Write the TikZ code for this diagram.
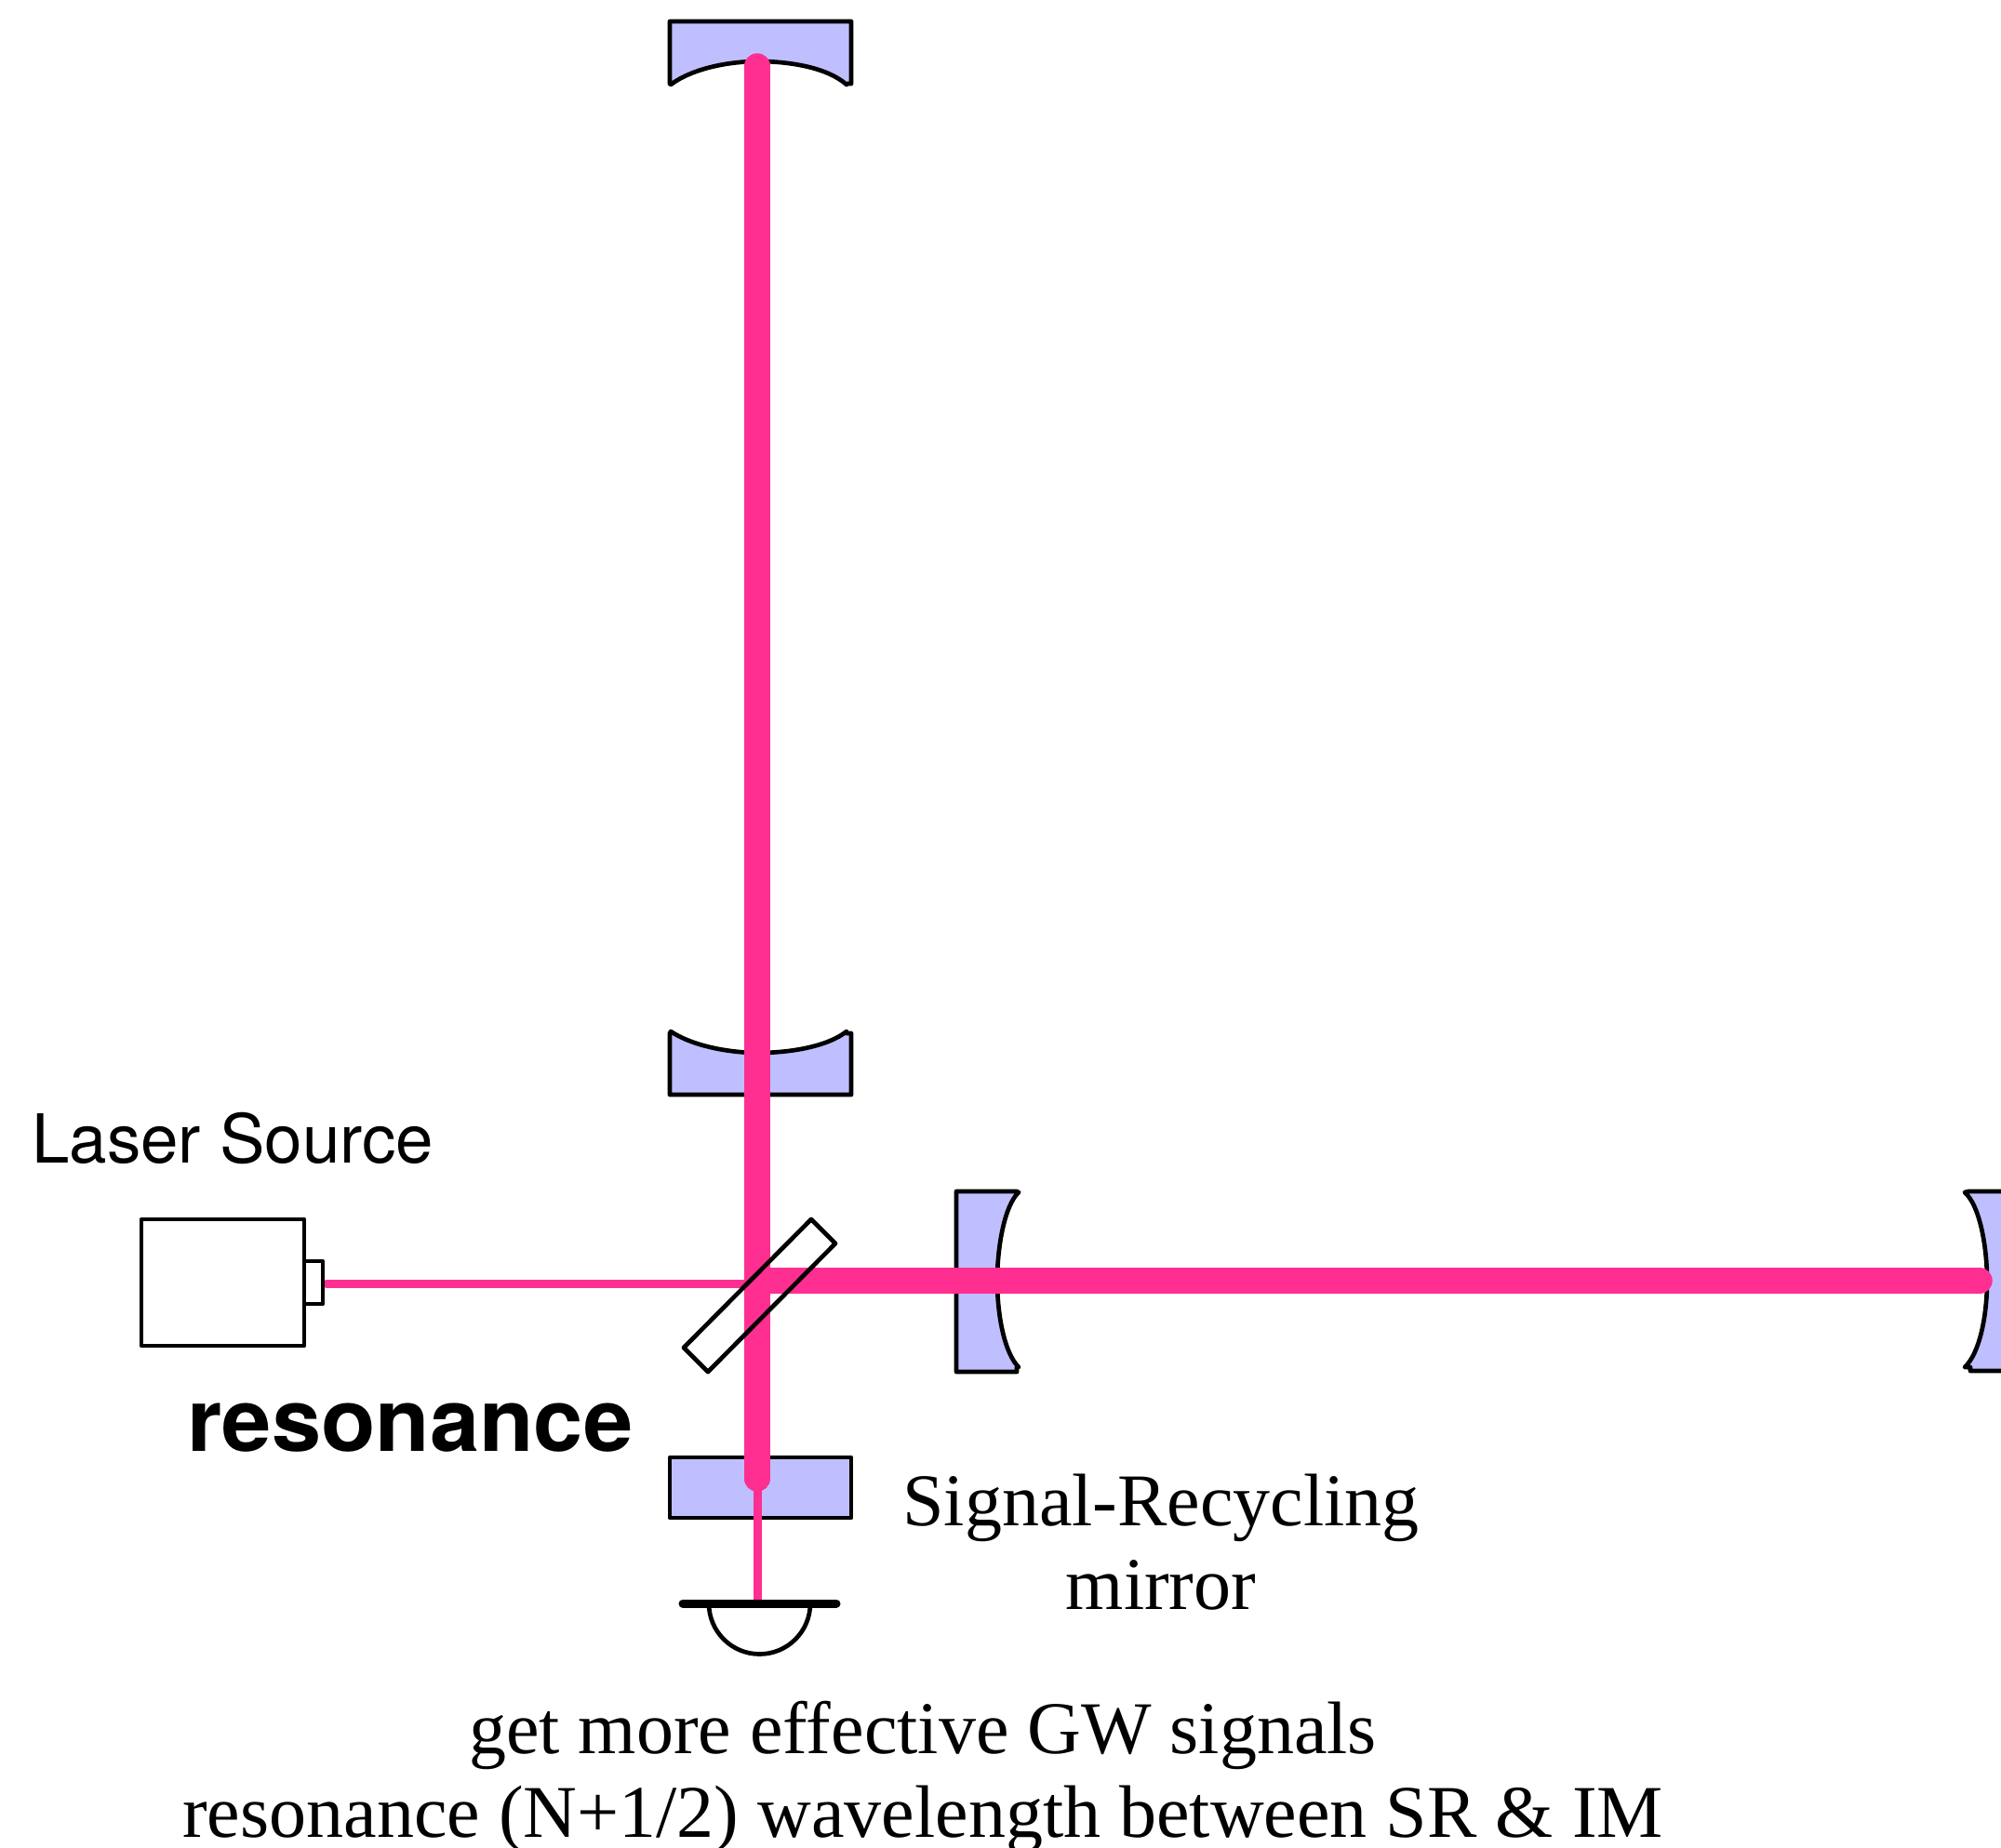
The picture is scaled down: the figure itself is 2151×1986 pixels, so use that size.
\documentclass[tikz,border=0pt]{standalone}
\usepackage{fontspec}
\setmainfont{Liberation Serif}
\newfontfamily\heros{TeX Gyre Heros}
\newfontfamily\heroswide[FakeStretch=1.018]{TeX Gyre Heros}
\definecolor{beam}{HTML}{FF2F92}
\definecolor{glass}{HTML}{BFBFFF}
\tikzset{
 x=1pt,y=-1pt,
 optic/.style={draw=black,line width=4.7pt,line join=round,line cap=round,fill=glass},
 plain/.style={draw=black,line width=4.7pt,line join=round,line cap=round},
 thickbeam/.style={draw=beam,line width=27.5pt,line cap=round},
 thinbeam/.style={draw=beam,line width=9pt,line cap=round},
 serif/.style={inner sep=0pt,anchor=base,font=\fontsize{80}{80}\selectfont},
 sans/.style={inner sep=0pt,anchor=base west,font=\heros\fontsize{72.7}{72.7}\selectfont},
}
\begin{document}
\begin{tikzpicture}
\useasboundingbox (0,0) rectangle (2151,1986);
\clip (0,0) rectangle (2151,1986);
% coordinates of the beam ends
\coordinate (top) at (814,71);
\coordinate (srend) at (814,1590);
\coordinate (endx) at (2128,1377);
\coordinate (bsv) at (814,1377);
\coordinate (laserout) at (351,1380);
\coordinate (bsin) at (806,1380);
\coordinate (pdtop) at (814,1722);
% mirrors
\draw[optic] (910,90) -- (915,90) -- (915,23) -- (720,23) -- (720,90) -- (721,91)
  .. controls (745,73) and (785,66) .. (815,66) .. controls (850,66) and (890,73) .. (910,91);
\draw[optic] (721,1109) .. controls (745,1125) and (785,1132) .. (815,1132) .. controls (850,1132) and (890,1125) .. (910,1109) -- (910,1111) -- (915,1111) -- (915,1177) -- (720,1177) -- (720,1111) -- cycle;
\draw[optic] (1095,1282) .. controls (1080,1296) and (1072,1340) .. (1072,1377) .. controls (1072,1415) and (1080,1455) .. (1095,1470) -- (1093,1470) -- (1093,1475) -- (1028,1475) -- (1028,1281) -- (1093,1281) -- cycle;
\draw[optic] (2112,1282) .. controls (2128,1296) and (2136,1340) .. (2136,1377) .. controls (2136,1415) and (2128,1455) .. (2112,1470) -- (2118,1470) -- (2118,1474) -- (2160,1474) -- (2160,1281) -- (2116,1281) -- cycle;
\draw[optic] (720,1567) rectangle (915,1632);
% beam splitter fill
\fill[white] (872,1311) -- (898,1337) -- (761,1475) -- (735,1449) -- cycle;
% beams
\draw[thinbeam] (laserout) -- (bsin);
\draw[thinbeam] (srend) -- (pdtop);
\draw[thickbeam] (bsv) -- (endx);
\draw[thickbeam] (top) -- (srend);
% beam splitter outline
\draw[plain] (872,1311) -- (898,1337) -- (761,1475) -- (735,1449) -- cycle;
% laser
\draw[plain,fill=white] (152,1311) rectangle (327,1447);
\draw[plain,fill=white] (327,1356) rectangle (347,1402);
% photodiode
\draw[plain] (762,1724) arc[start angle=180,end angle=0,radius=54.5];
\draw[draw=black,line width=9pt,line cap=round] (734,1724) -- (899,1724);
% labels
\node[sans] (lasertxt) at (34,1250) {Laser Source};
\node[inner sep=0pt,anchor=base west,font=\heroswide\bfseries\fontsize{94}{94}\selectfont] (restxt) at (201,1560) {resonance};
\node[serif] (sr1) at (1248,1640) {Signal-Recycling};
\node[serif] (sr2) at (1248,1730) {mirror};
\node[serif] (get) at (992,1885) {get more effective GW signals};
\node[serif] (reso) at (992,1975) {resonance (N+1/2) wavelength between SR \& IM};
\end{tikzpicture}
\end{document}
